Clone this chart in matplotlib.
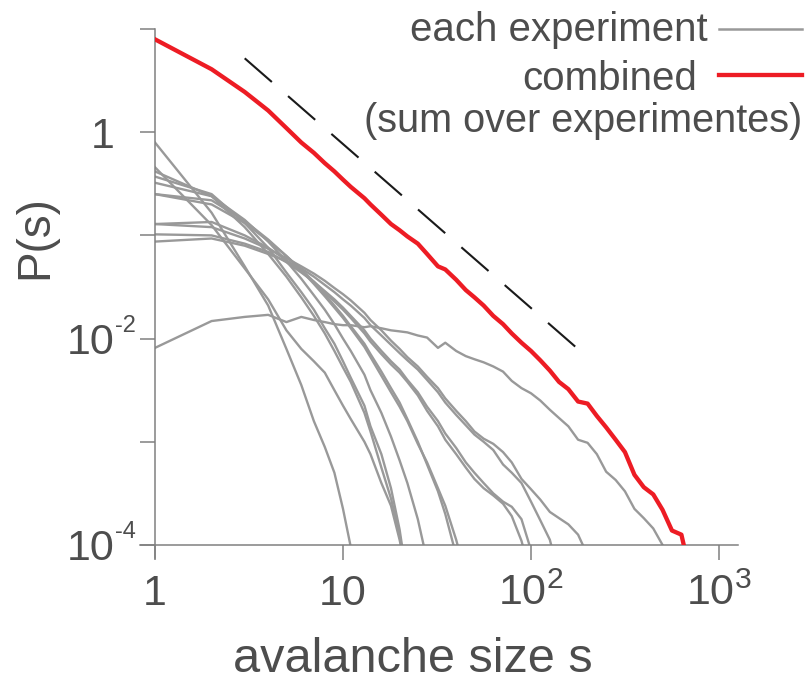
import numpy as np
import matplotlib
matplotlib.use('Agg')
import matplotlib.pyplot as plt
from matplotlib.patches import Rectangle
from matplotlib.lines import Line2D
import matplotlib.ticker as mticker

plt.rcParams['font.family'] = ['Liberation Sans', 'DejaVu Sans']
plt.rcParams['mathtext.fontset'] = 'custom'
plt.rcParams['mathtext.rm'] = 'Liberation Sans'
plt.rcParams['mathtext.it'] = 'Liberation Sans:italic'

# ---------------- data (log10 P on a common size grid) ----------------
sizes = [1, 2, 3, 4, 5, 6, 7, 8, 9, 10, 11, 13, 14, 16, 18, 20, 22, 25, 28, 32,
         35, 40, 45, 50, 56, 63, 71, 79, 89, 100, 112, 126, 141, 158, 178, 200,
         224, 251, 282, 316, 355, 398, 447, 501, 562, 631, 708]

combined_logp = [0.90, 0.61, 0.39, 0.21, 0.04, -0.10, -0.20, -0.30, -0.38, -0.46,
                 -0.53, -0.64, -0.70, -0.80, -0.89, -0.95, -1.01, -1.08, -1.18, -1.30,
                 -1.33, -1.43, -1.53, -1.60, -1.68, -1.78, -1.86, -1.95, -2.04, -2.12,
                 -2.21, -2.31, -2.42, -2.49, -2.61, -2.63, -2.75, -2.86, -2.98, -3.10,
                 -3.32, -3.44, -3.51, -3.66, -3.86, -3.90, -4.30]

exp_a = [-0.10, -0.78, -1.30, -1.68, -2.10, -2.45, -2.80, -3.05, -3.30, -3.65, -4.02]
exp_b = [-0.34, -0.90, -1.32, -1.62, -1.92, -2.10, -2.22, -2.33, -2.50, -2.65, -2.78,
         -3.00, -3.12, -3.40, -3.62, -3.95, -4.30]
exp_c = [-0.38, -0.62, -0.92, -1.18, -1.40, -1.60, -1.78, -1.95, -2.12, -2.28, -2.42,
         -2.72, -2.90, -3.25, -3.55, -3.90, -4.40]
exp_d = [-0.43, -0.60, -0.88, -1.12, -1.36, -1.55, -1.72, -1.90, -2.05, -2.22, -2.38,
         -2.65, -2.85, -3.12, -3.45, -3.85, -4.35]
exp_e = [-0.49, -0.62, -0.85, -1.06, -1.25, -1.42, -1.58, -1.72, -1.86, -2.00, -2.12,
         -2.35, -2.50, -2.72, -2.95, -3.18, -3.40, -3.75, -4.15]
exp_f = [-0.60, -0.70, -0.88, -1.05, -1.20, -1.33, -1.45, -1.57, -1.68, -1.78, -1.88,
         -2.05, -2.15, -2.32, -2.48, -2.62, -2.78, -3.00, -3.22, -3.48, -3.70, -4.10]
exp_g = [-0.60, -0.66, -0.86, -1.04, -1.20, -1.34, -1.47, -1.59, -1.70, -1.80, -1.90,
         -2.08, -2.18, -2.36, -2.52, -2.66, -2.80, -3.02, -3.20, -3.45, -3.62, -3.95, -4.30]
exp_h = [-0.89, -0.87, -1.00, -1.12, -1.24, -1.35, -1.45, -1.55, -1.64, -1.72, -1.80,
         -1.95, -2.03, -2.15, -2.25, -2.33, -2.42, -2.55, -2.70, -2.85, -2.98, -3.12,
         -3.25, -3.36, -3.45, -3.52, -3.60, -3.72, -3.96, -4.30]
exp_i = [-0.99, -1.00, -1.08, -1.16, -1.26, -1.36, -1.45, -1.54, -1.62, -1.70, -1.78,
         -1.92, -2.00, -2.12, -2.22, -2.30, -2.40, -2.52, -2.66, -2.80, -2.92, -3.06,
         -3.20, -3.30, -3.40, -3.50, -3.58, -3.63, -3.75, -4.05]
exp_j = [-1.06, -1.03, -1.10, -1.18, -1.25, -1.32, -1.40, -1.48, -1.55, -1.62, -1.68,
         -1.80, -1.87, -1.97, -2.06, -2.14, -2.21, -2.30, -2.40, -2.52, -2.62, -2.74,
         -2.84, -2.93, -3.00, -3.08, -3.22, -3.30, -3.40, -3.58, -3.76, -3.95, -4.30]
exp_k = [-0.89, -0.92, -1.03, -1.13, -1.22, -1.30, -1.37, -1.44, -1.51, -1.57, -1.63,
         -1.75, -1.82, -1.92, -2.02, -2.10, -2.18, -2.27, -2.37, -2.48, -2.58, -2.70,
         -2.80, -2.90, -2.97, -3.02, -3.10, -3.20, -3.36, -3.46, -3.56, -3.68, -3.74,
         -3.80, -3.90, -4.10]
exp_l = [-2.09, -1.83, -1.79, -1.77, -1.84, -1.79, -1.82, -1.84, -1.86, -1.87, -1.87,
         -1.89, -1.88, -1.90, -1.92, -1.93, -1.94, -1.97, -1.99, -2.09, -2.04, -2.12,
         -2.17, -2.20, -2.23, -2.27, -2.32, -2.41, -2.48, -2.53, -2.60, -2.69, -2.77,
         -2.85, -2.98, -3.01, -3.12, -3.29, -3.37, -3.48, -3.65, -3.74, -3.84, -4.00, -4.30]

experiments = [exp_a, exp_b, exp_c, exp_d, exp_e, exp_f, exp_g, exp_h, exp_i, exp_j, exp_k, exp_l]

guide_s = [3.0, 174.0]
guide_p = [5.2, 8.2e-3]

x_ticks = [1, 10, 100, 1000]
x_ticklabels = ['1', '10', r'$\mathregular{10^{2}}$', r'$\mathregular{10^{3}}$']
y_ticks = [1e-4, 1e-3, 1e-2, 1e-1, 1, 10]
y_ticklabels = ['10', '', '10', '', '1', '']
y_superscripts = [(1e-4, '-4'), (1e-2, '-2')]

# ---------------- style ----------------
TEXT = '#4d4d4d'
AXC = '#808080'
GRAY = '#999999'
RED = '#ed1c24'

fig = plt.figure(figsize=(8.08, 6.83), dpi=100)
ax = fig.add_axes([140/808, 125/683, 598/808, 529/683])
ax.set_xscale('log')
ax.set_yscale('log')
ax.set_xlim(10**(-15/188), 10**(583/188))
ax.set_ylim(10**(-4 - 13/103), 10.0)

clip = Rectangle((1, 1e-4), 1e5, 1e4, transform=ax.transData)

s_arr = np.array(sizes, dtype=float)
for logp in experiments:
    n = len(logp)
    ln, = ax.plot(s_arr[:n], 10**np.array(logp), color=GRAY, lw=1.7,
                  solid_joinstyle='round', zorder=2)
    ln.set_clip_path(clip)

ln, = ax.plot(s_arr[:len(combined_logp)], 10**np.array(combined_logp), color=RED,
              lw=3.1, solid_joinstyle='round', zorder=3)
ln.set_clip_path(clip)

ax.plot(guide_s, guide_p, color='#1a1a1a', lw=1.5, linestyle=(0, (17.3, 10.3)), zorder=3)

for side in ['top', 'right']:
    ax.spines[side].set_visible(False)
ax.spines['left'].set_position(('data', 1.0))
ax.spines['bottom'].set_position(('data', 1e-4))
for side in ['left', 'bottom']:
    ax.spines[side].set_color(AXC)
    ax.spines[side].set_linewidth(1.1)

ax.xaxis.set_major_locator(mticker.FixedLocator(x_ticks))
ax.xaxis.set_minor_locator(mticker.NullLocator())
ax.set_xticklabels(x_ticklabels)
ax.yaxis.set_major_locator(mticker.FixedLocator(y_ticks))
ax.yaxis.set_minor_locator(mticker.NullLocator())
ax.set_yticklabels(y_ticklabels)
ax.tick_params(direction='out', length=10.8, width=1.1, color=AXC,
               labelcolor=TEXT, labelsize=31)
ax.tick_params(axis='y', pad=18.5)
ax.tick_params(axis='x', pad=10)

for val, sup in y_superscripts:
    ax.annotate(sup, xy=(1.0, val), xycoords='data', xytext=(-28.5, 9),
                textcoords='offset points', ha='left', va='center',
                fontsize=17, color=TEXT, annotation_clip=False)

# axis labels
fig.text(413/808, 1 - 672/683, 'avalanche size s', ha='center', va='baseline',
         fontsize=35, color=TEXT)
fig.text(35/808, 1 - 237/683, 'P(s)', rotation=90, ha='center', va='center',
         fontsize=33, color=TEXT)

# legend
fig.text(708/808, 1 - 41/683, 'each experiment', ha='right', va='baseline',
         fontsize=29, color=TEXT)
fig.add_artist(Line2D([719/808, 802/808], [1 - 29/683] * 2, transform=fig.transFigure,
                      color=GRAY, lw=1.8))
fig.text(697/808, 1 - 90/683, 'combined', ha='right', va='baseline',
         fontsize=29, color=TEXT)
fig.add_artist(Line2D([719/808, 802/808], [1 - 75/683] * 2, transform=fig.transFigure,
                      color=RED, lw=3.1))
fig.text(802/808, 1 - 132/683, '(sum over experimentes)', ha='right', va='baseline',
         fontsize=28.5, color=TEXT)

fig.savefig('out.png', dpi=100)
